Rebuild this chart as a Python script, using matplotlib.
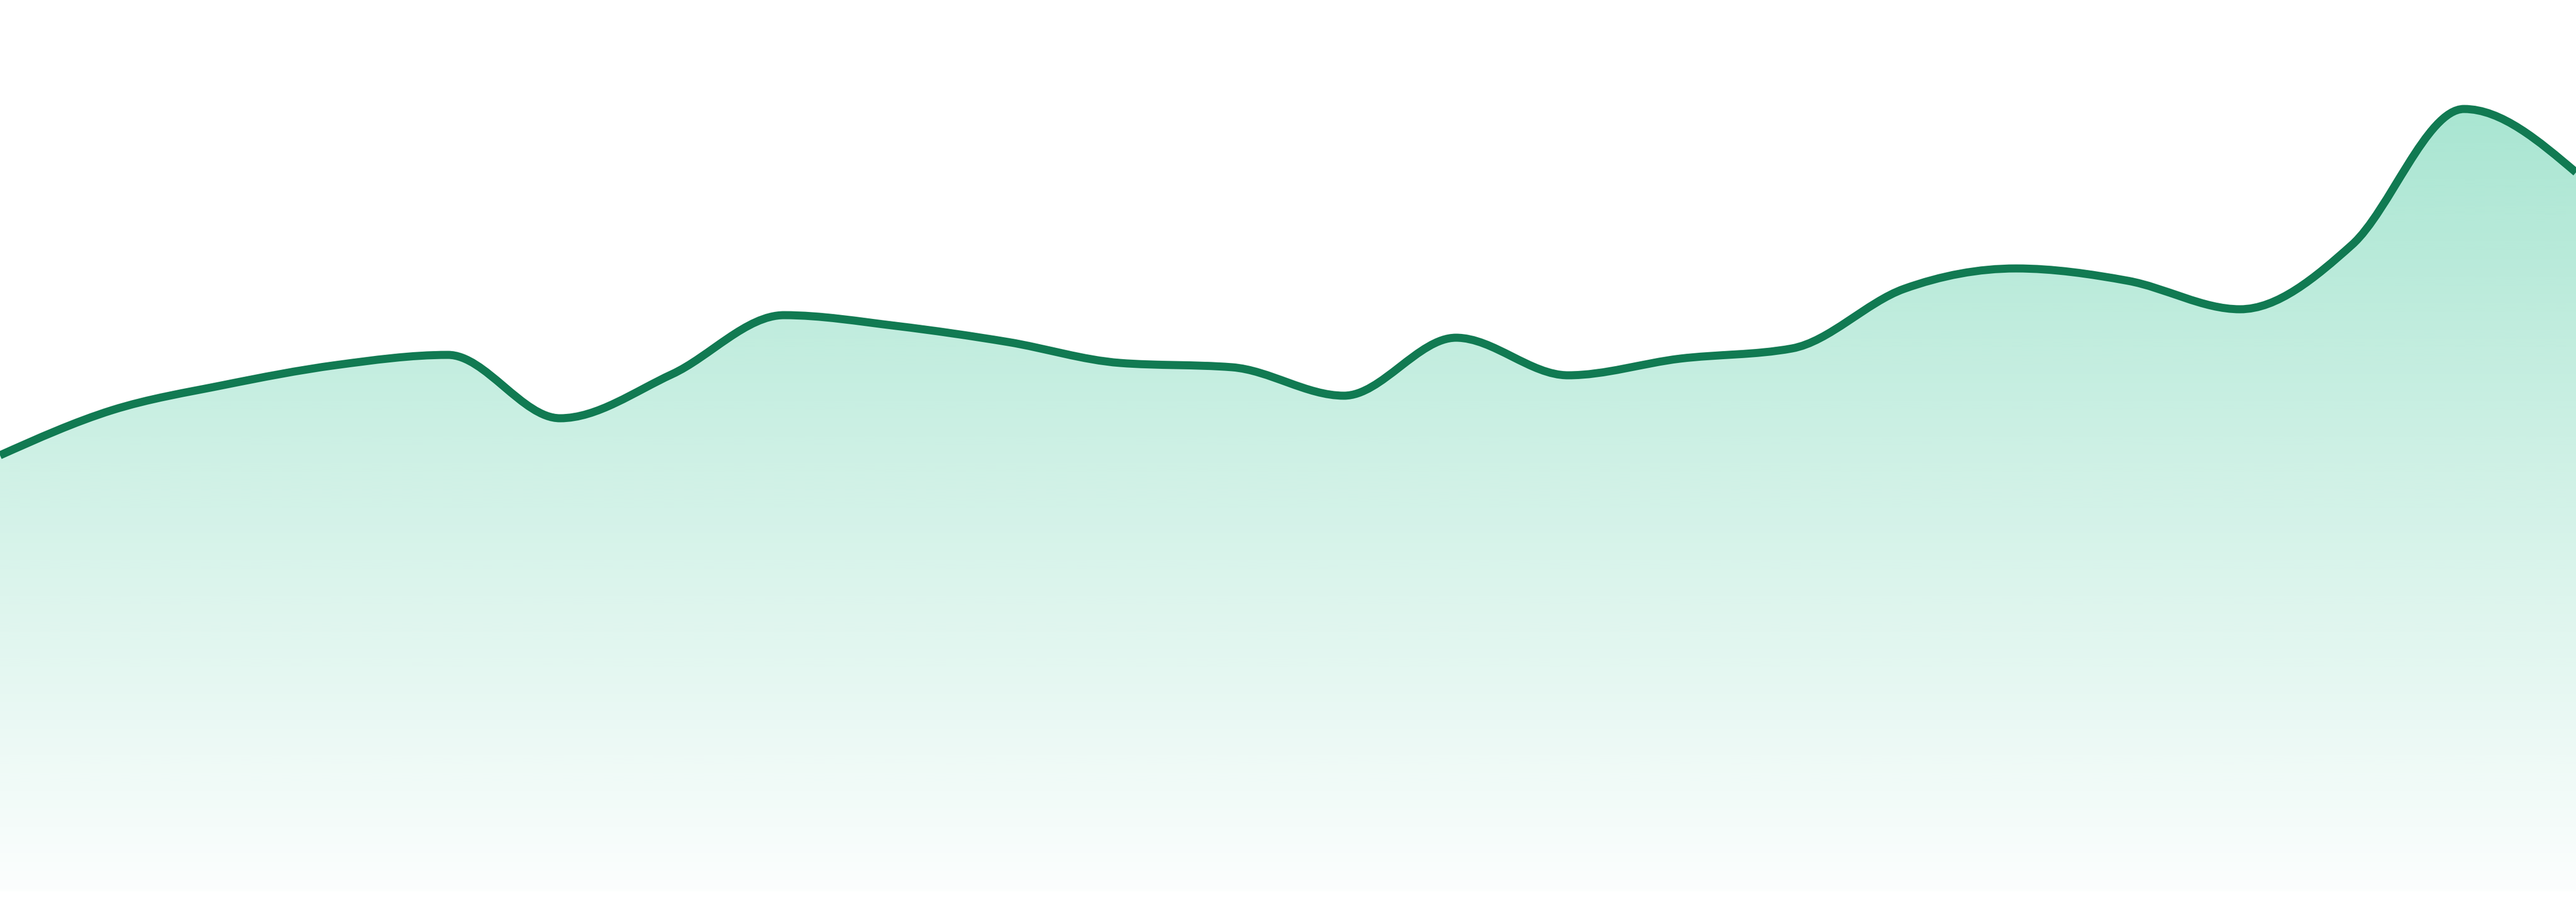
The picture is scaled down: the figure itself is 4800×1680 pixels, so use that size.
import numpy as np
import matplotlib
matplotlib.use("Agg")
import matplotlib.pyplot as plt
from matplotlib.path import Path
from matplotlib.patches import PathPatch

# one value per step
steps = list(range(24))
values = [81.2, 89.6, 94.3, 98.0, 99.9, 88.1, 96.3, 107.3, 105.3, 102.3, 98.4, 97.6,
          92.3, 103.1, 96.1, 99.2, 101.1, 112.2, 116.0, 113.7, 108.4, 120.4, 145.7, 133.9]

LINE_COLOR = "#117a52"
FILL_COLOR = (16 / 255, 185 / 255, 129 / 255)


def monotone_tangents(x, y):
    # same rule as d3.curveMonotoneX
    x = np.asarray(x, float)
    y = np.asarray(y, float)
    n = len(x)
    t = np.zeros(n)
    for i in range(1, n - 1):
        h0 = x[i] - x[i - 1]
        h1 = x[i + 1] - x[i]
        s0 = (y[i] - y[i - 1]) / h0
        s1 = (y[i + 1] - y[i]) / h1
        p = (s0 * h1 + s1 * h0) / (h0 + h1)
        t[i] = (np.sign(s0) + np.sign(s1)) * min(abs(s0), abs(s1), 0.5 * abs(p))
    h = x[1] - x[0]
    t[0] = (3 * (y[1] - y[0]) / h - t[1]) / 2
    h = x[-1] - x[-2]
    t[-1] = (3 * (y[-1] - y[-2]) / h - t[-2]) / 2
    return t


def curve_vertices(x, y):
    t = monotone_tangents(x, y)
    verts = [(x[0], y[0])]
    codes = [Path.MOVETO]
    for i in range(len(x) - 1):
        dx = (x[i + 1] - x[i]) / 3
        verts += [(x[i] + dx, y[i] + dx * t[i]),
                  (x[i + 1] - dx, y[i + 1] - dx * t[i + 1]),
                  (x[i + 1], y[i + 1])]
        codes += [Path.CURVE4] * 3
    return verts, codes


fig = plt.figure(figsize=(16, 5.6), dpi=300)
ax = fig.add_axes([0, 0, 1, 1])
ax.set_xlim(0, 23)
ax.set_ylim(-2, 166)
ax.axis("off")

verts, codes = curve_vertices(steps, values)

# area under the curve, gradient fill
area_verts = verts + [(steps[-1], 0), (steps[0], 0), verts[0]]
area_codes = codes + [Path.LINETO, Path.LINETO, Path.CLOSEPOLY]
area = PathPatch(Path(area_verts, area_codes), facecolor="none", edgecolor="none")
ax.add_patch(area)

top = max(values)
rows = np.linspace(0, 166, 400)
alpha = np.clip(0.015 + 0.345 * rows / top, 0, 1)
grad = np.zeros((len(rows), 1, 4))
grad[:, 0, 0] = FILL_COLOR[0]
grad[:, 0, 1] = FILL_COLOR[1]
grad[:, 0, 2] = FILL_COLOR[2]
grad[:, 0, 3] = alpha
img = ax.imshow(grad, extent=(0, 23, 0, 166), origin="lower", aspect="auto",
                interpolation="bilinear", zorder=1)
img.set_clip_path(area)

line = PathPatch(Path(verts, codes), facecolor="none", edgecolor=LINE_COLOR,
                 linewidth=3.6, zorder=2)
ax.add_patch(line)

fig.savefig("out.png", dpi=300, facecolor="white")
